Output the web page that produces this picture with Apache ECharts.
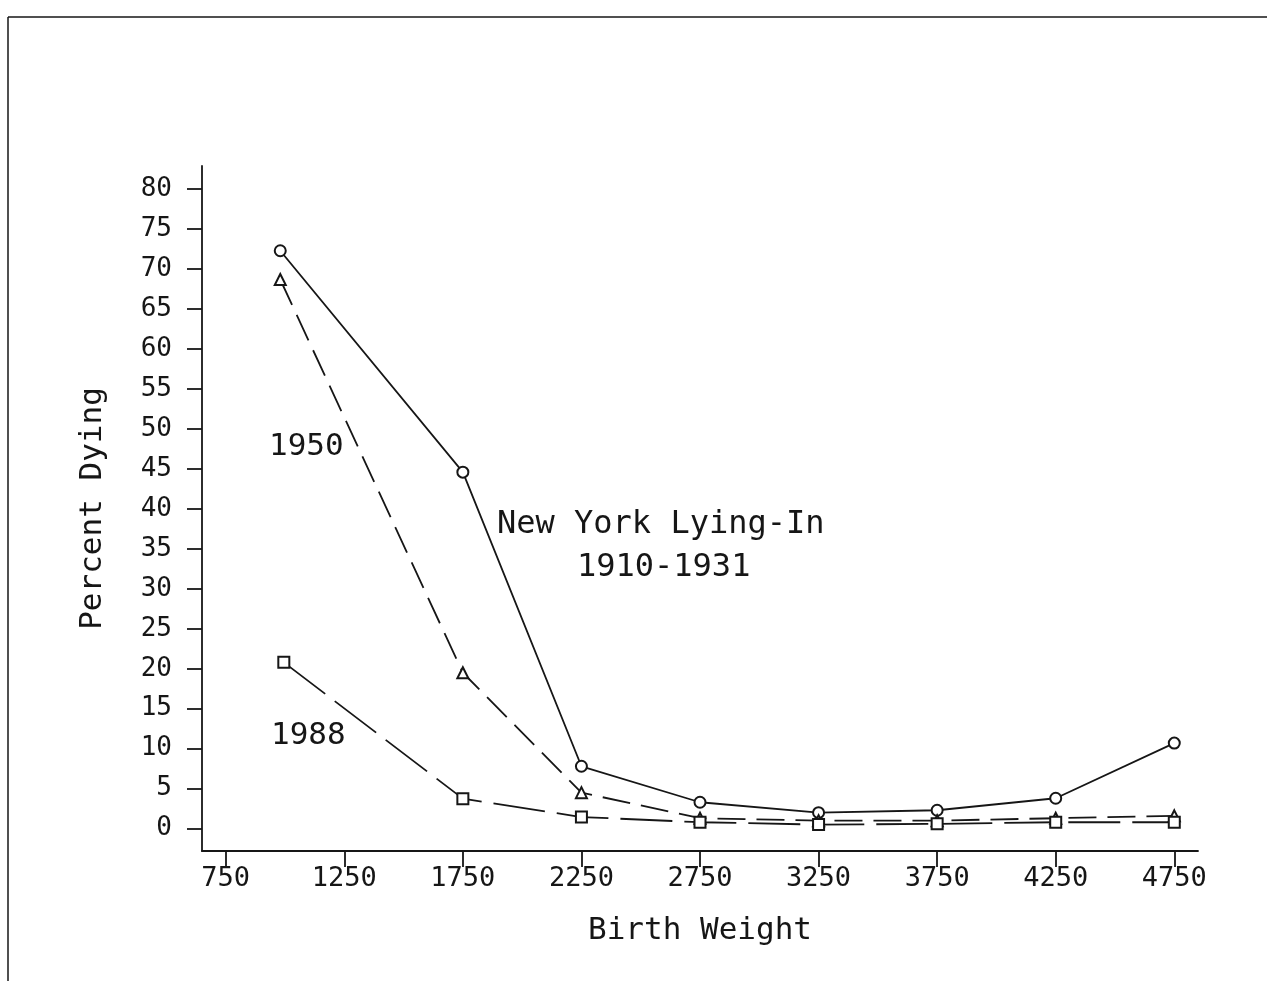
<!DOCTYPE html>
<html>
<head>
<meta charset="utf-8">
<script src="https://cdn.jsdelivr.net/npm/echarts@6/dist/echarts.min.js"></script>
<style>
  html, body { margin: 0; padding: 0; background: #fff; }
  #chart { width: 1267px; height: 981px; }
</style>
</head>
<body>
<div id="chart"></div>
<script>
// values
var xTicks = [750, 1250, 1750, 2250, 2750, 3250, 3750, 4250, 4750];
var yTicks = [0, 5, 10, 15, 20, 25, 30, 35, 40, 45, 50, 55, 60, 65, 70, 75, 80];

var nyWeight = [980, 1750, 2250, 2750, 3250, 3750, 4250, 4750];
var nyPct = [72.3, 44.6, 7.8, 3.3, 2.0, 2.3, 3.8, 10.7];

var y1950Weight = [980, 1750, 2250, 2750, 3250, 3750, 4250, 4750];
var y1950Pct = [68.7, 19.5, 4.5, 1.3, 1.0, 1.0, 1.3, 1.6];

var y1988Weight = [995, 1750, 2250, 2750, 3250, 3750, 4250, 4750];
var y1988Pct = [20.8, 3.75, 1.45, 0.8, 0.5, 0.6, 0.8, 0.8];

function pairs(xs, ys) {
  var out = [];
  for (var i = 0; i < xs.length; i++) out.push([xs[i], ys[i]]);
  return out;
}

var FONT = '"DejaVu Sans Mono", monospace';
var INK = '#161616';

var myChart = echarts.init(document.getElementById('chart'), null, { renderer: 'canvas' });

var lineSeries = function (name, data, symbol, dash) {
  return {
    name: name,
    type: 'line',
    data: data,
    symbol: symbol,
    symbolSize: symbol === 'triangle' ? 11 : 11,
    showSymbol: true,
    animation: false,
    lineStyle: { color: INK, width: 1.8, type: dash },
    itemStyle: { color: '#fff', borderColor: INK, borderWidth: 2 },
    emphasis: { disabled: true },
    z: 3
  };
};

var option = {
  backgroundColor: '#fff',
  animation: false,
  grid: { left: 202, top: 166, right: 69, bottom: 130 },
  xAxis: {
    type: 'value',
    min: 650,
    max: 4850,
    name: 'Birth Weight',
    nameLocation: 'middle',
    nameGap: 64,
    nameTextStyle: { fontFamily: FONT, fontSize: 31, color: INK },
    splitLine: { show: false },
    axisLine: { show: true, onZero: false, lineStyle: { color: INK, width: 1.8 } },
    axisTick: { show: true, length: 16, customValues: xTicks, lineStyle: { color: INK, width: 1.8 } },
    axisLabel: {
      customValues: xTicks, margin: 14, fontFamily: FONT, fontSize: 27, color: INK,
      formatter: function (v) { return String(v); }
    }
  },
  yAxis: {
    type: 'value',
    min: -2.8,
    max: 82.9,
    name: 'Percent Dying',
    nameLocation: 'middle',
    nameGap: 94,
    nameTextStyle: { fontFamily: FONT, fontSize: 31, color: INK },
    splitLine: { show: false },
    axisLine: { show: true, onZero: false, lineStyle: { color: INK, width: 1.8 } },
    axisTick: { show: true, length: 15, customValues: yTicks, lineStyle: { color: INK, width: 1.8 } },
    axisLabel: {
      customValues: yTicks, margin: 30, fontFamily: FONT, fontSize: 26, color: INK,
      formatter: function (v) { return String(v); }
    }
  },
  series: [
    lineSeries('New York Lying-In 1910-1931', pairs(nyWeight, nyPct), 'circle', 'solid'),
    lineSeries('1950', pairs(y1950Weight, y1950Pct), 'triangle', [28, 11]),
    lineSeries('1988', pairs(y1988Weight, y1988Pct), 'rect', [52, 12])
  ],
  graphic: [
    // page frame
    { type: 'line', shape: { x1: 8, y1: 17, x2: 1267, y2: 17 }, style: { stroke: INK, lineWidth: 1.5 } },
    { type: 'line', shape: { x1: 8, y1: 17, x2: 8, y2: 981 }, style: { stroke: INK, lineWidth: 1.5 } },
    // curve labels
    { type: 'text', left: 269, top: 431, style: { text: '1950', font: '31px ' + FONT, fill: INK } },
    { type: 'text', left: 271, top: 720, style: { text: '1988', font: '31px ' + FONT, fill: INK } },
    { type: 'text', left: 497, top: 509, style: { text: 'New York Lying-In', font: '32px ' + FONT, fill: INK } },
    { type: 'text', left: 577, top: 552, style: { text: '1910-1931', font: '32px ' + FONT, fill: INK } }
  ]
};

myChart.setOption(option);
</script>
</body>
</html>
